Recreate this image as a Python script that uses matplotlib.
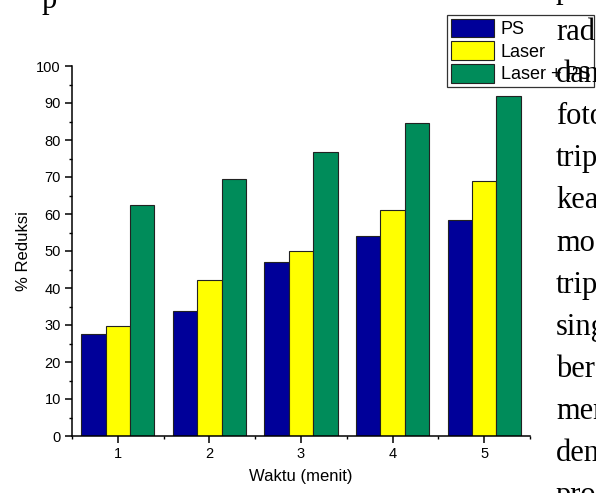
import matplotlib
matplotlib.use("Agg")
import matplotlib.pyplot as plt
import numpy as np

# === Дані ===
waktu = [1, 2, 3, 4, 5]
ps = [27.6, 33.8, 47.1, 54.0, 58.3]
laser = [29.6, 42.2, 50.0, 61.1, 68.8]
laser_ps = [62.4, 69.4, 76.8, 84.7, 91.8]
series_labels = ["PS", "Laser", "Laser + PS"]
colors = ["#000099", "#FFFF00", "#008C5A"]

# текст документа праворуч (обрізані слова)
doc_words = ["rad", "dan", "foto", "trip", "kea", "mo", "trip", "sing", "berc", "mer", "den", "pro"]

W, H = 596, 493
fig = plt.figure(figsize=(W / 100, H / 100), dpi=100)
ax = fig.add_axes([72 / W, 1 - 436 / H, (530 - 72) / W, (436 - 66) / H])

x = np.array(waktu)
bw = 0.267
for i, (vals, lab, c) in enumerate(zip([ps, laser, laser_ps], series_labels, colors)):
    ax.bar(x + (i - 1) * bw, vals, width=bw, color=c, edgecolor="#222222",
           linewidth=0.8, label=lab)

ax.set_xlim(0.5, 5.5)
ax.set_ylim(0, 100)
ax.set_xticks(waktu)
ax.set_xticks(np.arange(0.5, 5.6, 1.0), minor=True)
ax.set_yticks(range(0, 101, 10))
ax.set_yticks(range(5, 100, 10), minor=True)

for s in ["top", "right"]:
    ax.spines[s].set_visible(False)
for s in ["left", "bottom"]:
    ax.spines[s].set_linewidth(1.1)

ax.tick_params(which="major", direction="out", length=5, width=1.1,
               labelsize=10.5, pad=3)
ax.tick_params(which="minor", direction="out", length=2.5, width=1.0)
for t in ax.get_xticklabels() + ax.get_yticklabels():
    t.set_family("Liberation Sans")

ax.set_xlabel("Waktu (menit)", fontsize=12, family="Liberation Sans", labelpad=6)
ax.set_ylabel("% Reduksi", fontsize=12, family="Liberation Sans", labelpad=4)

# легенда (права частина обрізана краєм, як в оригіналі)
leg = ax.legend(loc="upper left", bbox_to_anchor=(447 / W, 1 - 15 / H),
                bbox_transform=fig.transFigure,
                prop={"family": "Liberation Sans", "size": 13},
                frameon=True, fancybox=False, edgecolor="black",
                borderpad=0.2, borderaxespad=0, handlelength=2.4,
                handleheight=1.22, labelspacing=0.18, handletextpad=0.39)
leg.get_frame().set_linewidth(0.9)

# === Текст документа ===
x_doc = 556
base0 = 40
step = 42.1
for i, w in enumerate(doc_words):
    y = base0 + step * i
    fig.text(x_doc / W, 1 - y / H, w, family="Liberation Serif", fontsize=22,
             va="baseline", ha="left", zorder=5)
fig.text(x_doc / W, 1 - (base0 - step) / H, "p", family="Liberation Serif",
         fontsize=22, va="baseline", ha="left", zorder=5)
fig.text(42 / W, 1 - 8 / H, "p", family="Liberation Serif", fontsize=22,
         va="baseline", ha="left", zorder=5)

fig.savefig("out.png", dpi=100)
